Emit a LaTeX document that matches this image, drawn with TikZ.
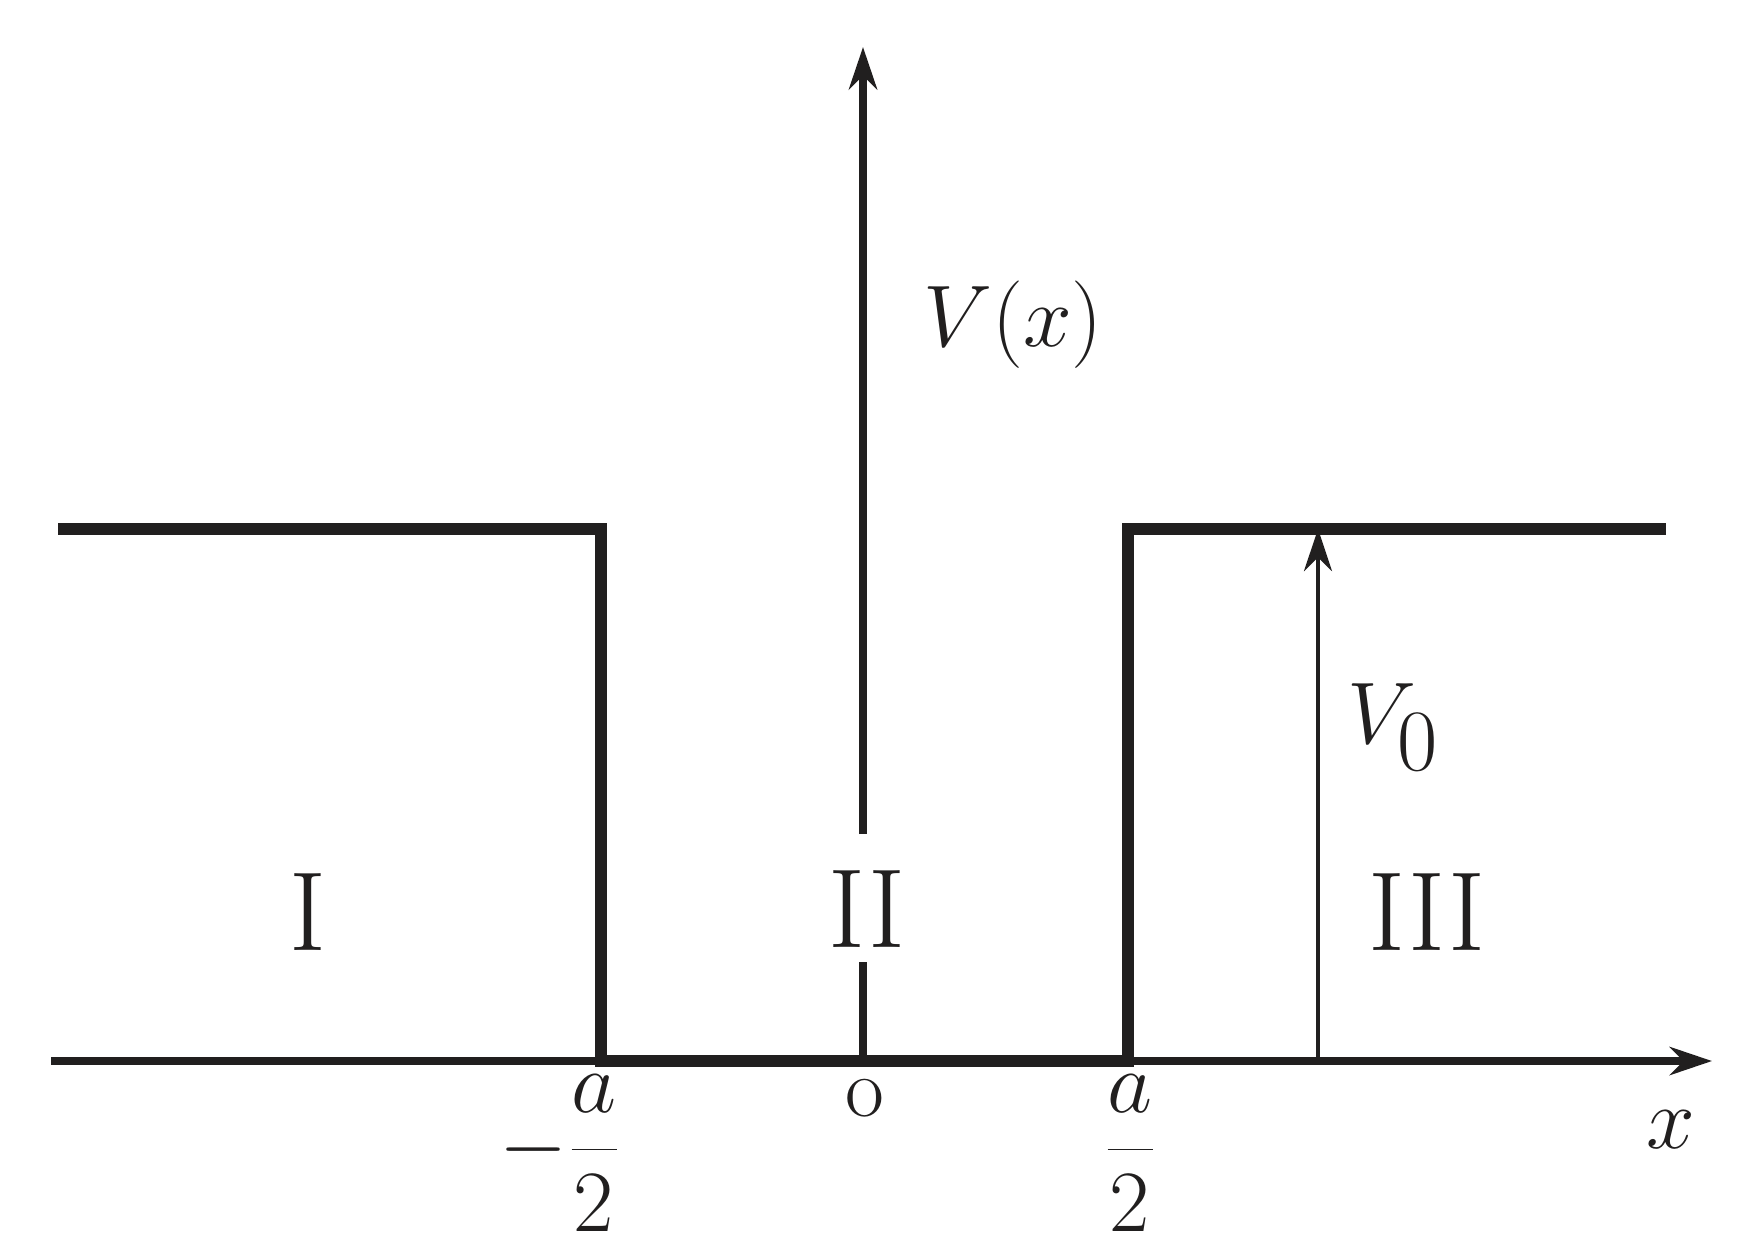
\documentclass[tikz,border=0pt]{standalone}
\usetikzlibrary{arrows.meta}
\begin{document}
\begin{tikzpicture}[x=0.01cm,y=-0.01cm,
  ax/.style={line width=2.2pt,-{Stealth[length=12pt,width=8pt]}},
  pot/.style={line width=3.4pt,line join=miter},
  lab/.style={inner sep=0pt,font=\fontsize{32}{38}\selectfont}]
\useasboundingbox (0,0) rectangle (1746,1241);
\color[rgb]{0.13,0.12,0.12}
\coordinate (xs) at (51,1061); \coordinate (xe) at (1712,1061);
\coordinate (o) at (863,1061); \coordinate (ye) at (863,47);
\coordinate (g1) at (863,834); \coordinate (g2) at (863,962);
\draw[ax] (xs) -- (xe);
\draw[line width=2.2pt] (o) -- (g2);
\draw[ax] (g1) -- (ye);
\coordinate (p1) at (58,529); \coordinate (p2) at (601,529);
\coordinate (p3) at (601,1061); \coordinate (p4) at (1128,1061);
\coordinate (p5) at (1128,529); \coordinate (p6) at (1666,529);
\draw[pot] (p1) -- (p2) -- (p3) -- (p4) -- (p5) -- (p6);
\coordinate (vb) at (1318,1061); \coordinate (vt) at (1318,529);
\draw[line width=1pt,-{Stealth[length=12pt,width=8pt]}] (vb) -- (vt);
\node[lab,font=\fontsize{44}{50}\selectfont] (Vx) at (1013,325) {$V(x)$};
\node[lab,font=\fontsize{44}{50}\selectfont] (V0) at (1393,727) {$V_0$};
\node[lab] (I) at (308,912) {I};
\node[lab] (II) at (867,909) {II};
\node[lab] (III) at (1427,912) {III};
\node[lab,font=\fontsize{24}{28}\selectfont] (O) at (865,1098) {o};
\node[lab,font=\fontsize{25}{30}\selectfont] (ma) at (560,1153) {$\displaystyle -\frac{a}{2}$};
\node[lab,font=\fontsize{25}{30}\selectfont] (pa) at (1130,1153) {$\displaystyle \frac{a}{2}$};
\node[lab,font=\fontsize{52}{58}\selectfont] (xl) at (1671,1130) {$x$};
\end{tikzpicture}
\end{document}
